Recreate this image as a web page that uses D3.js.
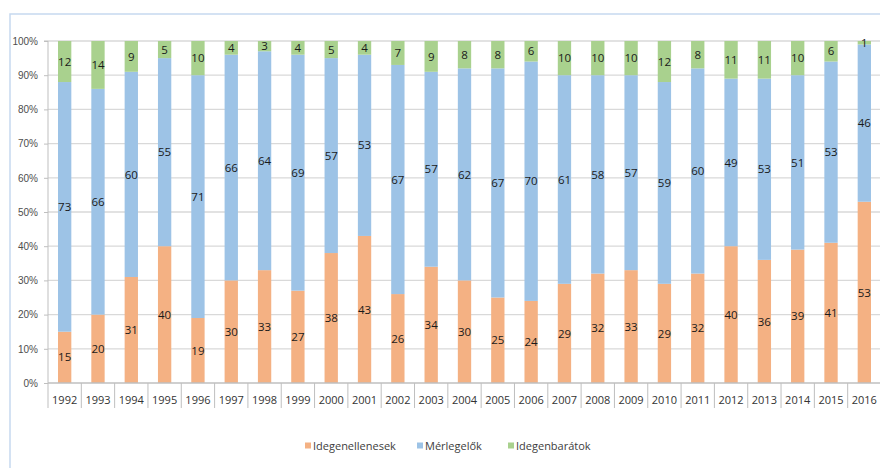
<!DOCTYPE html>
<html>
<head>
<meta charset="utf-8">
<script src="https://cdn.jsdelivr.net/npm/d3@7.9.0/dist/d3.min.js"></script>
<style>
  body { margin: 0; background: #fff; }
  svg { display: block; font-family: 'Open Sans', sans-serif; }
</style>
</head>
<body>
<svg width="880" height="468"></svg>
<script>
const years = ['1992','1993','1994','1995','1996','1997','1998','1999','2000','2001','2002','2003','2004',
  '2005','2006','2007','2008','2009','2010','2011','2012','2013','2014','2015','2016'];
const idegenellenesek = [15,20,31,40,19,30,33,27,38,43,26,34,30,25,24,29,32,33,29,32,40,36,39,41,53];
const merlegelok      = [73,66,60,55,71,66,64,69,57,53,67,57,62,67,70,61,58,57,59,60,49,53,51,53,46];
const idegenbaratok   = [12,14,9,5,10,4,3,4,5,4,7,9,8,8,6,10,10,10,12,8,11,11,10,6,1];
const seriesNames = ['Idegenellenesek', 'Mérlegelők', 'Idegenbarátok'];
const colors = ['#f4b183', '#9dc3e6', '#a9d18e'];
const yTicks = [0,10,20,30,40,50,60,70,80,90,100];

const rows = years.map((y, i) => ({
  year: y,
  'Idegenellenesek': idegenellenesek[i],
  'Mérlegelők': merlegelok[i],
  'Idegenbarátok': idegenbaratok[i]
}));

const svg = d3.select('svg');
const plotLeft = 48, plotRight = 881, plotTop = 41, plotBottom = 383;

// frame
svg.append('path')
  .attr('d', `M10,468 V14 H880`)
  .attr('fill', 'none')
  .attr('stroke', '#c6d9f0')
  .attr('stroke-width', 1.5);

const x = d3.scaleBand().domain(years).range([plotLeft, plotRight]).paddingInner(0.6).paddingOuter(0.3);
const y = d3.scaleLinear().domain([0, 100]).range([plotBottom, plotTop]);

// gridlines
svg.append('g').selectAll('line').data(yTicks.slice(1)).join('line')
  .attr('x1', plotLeft).attr('x2', plotRight)
  .attr('y1', d => y(d)).attr('y2', d => y(d))
  .attr('stroke', '#d9d9d9').attr('stroke-width', 1.3);

// y axis
const yAxis = svg.append('g').attr('transform', `translate(${plotLeft},0)`)
  .call(d3.axisLeft(y).tickValues(yTicks).tickFormat(d => d + '%').tickSize(4).tickPadding(6));
yAxis.select('.domain').attr('stroke', '#bfbfbf').attr('d', `M-4,${plotTop}H0V${plotBottom}`);
yAxis.selectAll('.tick line').attr('stroke', '#bfbfbf');
yAxis.selectAll('text').attr('fill', '#4d4d4d').style('font-size', '10px');

// bars
const stacked = d3.stack().keys(seriesNames)(rows);
const layers = svg.append('g').selectAll('g').data(stacked).join('g')
  .attr('fill', (d, i) => colors[i]);
layers.selectAll('rect').data(d => d).join('rect')
  .attr('x', d => x(d.data.year))
  .attr('width', x.bandwidth())
  .attr('y', d => y(d[1]))
  .attr('height', d => y(d[0]) - y(d[1]));

// data labels
const labels = svg.append('g');
stacked.forEach(layer => {
  labels.append('g').selectAll('text').data(layer).join('text')
    .attr('x', d => x(d.data.year) + x.bandwidth() / 2)
    .attr('y', d => y((d[0] + d[1]) / 2))
    .attr('dy', '0.36em')
    .attr('text-anchor', 'middle')
    .attr('fill', '#1a1a1a')
    .style('font-size', '11.5px')
    .text(d => d[1] - d[0]);
});

// x axis with separators
const step = x.step();
const xAxis = svg.append('g');
xAxis.append('line')
  .attr('x1', plotLeft).attr('x2', plotRight).attr('y1', plotBottom).attr('y2', plotBottom)
  .attr('stroke', '#bfbfbf').attr('stroke-width', 1.3);
xAxis.selectAll('line.sep').data(d3.range(years.length + 1)).join('line')
  .attr('class', 'sep')
  .attr('x1', i => plotLeft + i * step).attr('x2', i => plotLeft + i * step)
  .attr('y1', plotBottom).attr('y2', plotBottom + 25)
  .attr('stroke', '#bfbfbf');
xAxis.selectAll('text').data(years).join('text')
  .attr('x', d => x(d) + x.bandwidth() / 2)
  .attr('y', plotBottom + 21)
  .attr('text-anchor', 'middle')
  .attr('fill', '#333')
  .style('font-size', '11px')
  .text(d => d);

// legend
const legendX = [305, 417, 508];
const legend = svg.append('g');
seriesNames.forEach((name, i) => {
  const g = legend.append('g').attr('transform', `translate(${legendX[i]},446)`);
  g.append('rect').attr('x', 0).attr('y', -3.5).attr('width', 6).attr('height', 6).attr('fill', colors[i]);
  g.append('text').attr('x', 8).attr('y', 0).attr('dy', '0.35em')
    .attr('fill', '#404040').style('font-size', '11px')
    .text(name);
});
</script>
</body>
</html>
